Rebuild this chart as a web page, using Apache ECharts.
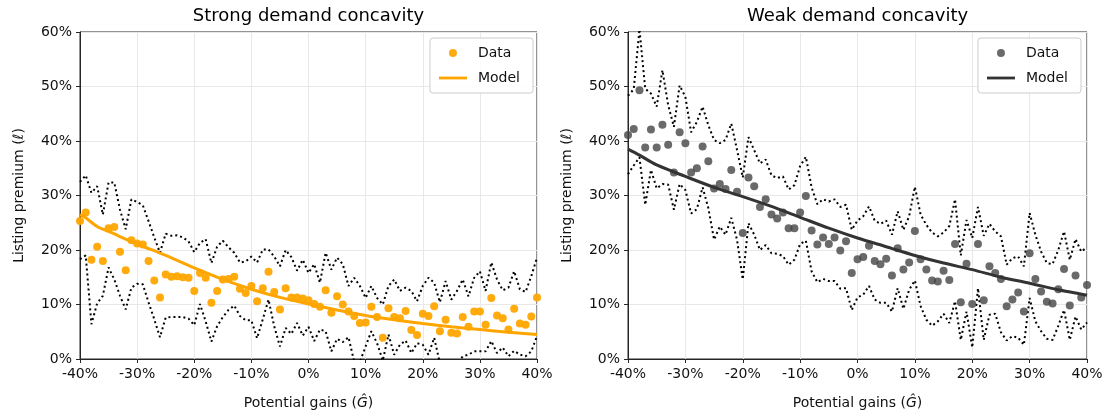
<!DOCTYPE html>
<html>
<head>
<meta charset="utf-8">
<script src="https://cdn.jsdelivr.net/npm/echarts@6/dist/echarts.min.js"></script>
<style>
  html, body { margin: 0; padding: 0; background: #fff; }
  #chart { width: 1108px; height: 417px; }
</style>
</head>
<body>
<div id="chart"></div>
<script>
// Potential gains (%), one observation per percentage point
const gains = [-40,-39,-38,-37,-36,-35,-34,-33,-32,-31,-30,-29,-28,-27,-26,-25,-24,-23,-22,-21,
  -20,-19,-18,-17,-16,-15,-14,-13,-12,-11,-10,-9,-8,-7,-6,-5,-4,-3,-2,-1,
  0,1,2,3,4,5,6,7,8,9,10,11,12,13,14,15,16,17,18,19,
  20,21,22,23,24,25,26,27,28,29,30,31,32,33,34,35,36,37,38,39,40];

// Strong demand concavity: observed premium and its confidence band (%)
const strongData = [25.3,26.9,18.2,20.6,18.0,24.0,24.2,19.7,16.3,21.8,21.2,21.0,18.0,14.4,11.3,15.5,15.1,15.2,15.0,14.9,
  12.5,15.8,14.9,10.3,12.5,14.6,14.7,15.1,12.9,12.1,13.4,10.6,13.0,16.0,12.3,9.1,13.0,11.3,11.3,11.1,
  10.8,10.1,9.6,12.6,8.5,11.5,10.0,8.7,7.9,6.6,6.7,9.6,7.7,3.9,9.3,7.7,7.5,8.8,5.3,4.4,
  8.3,7.9,9.7,5.1,7.2,4.8,4.7,7.7,5.9,8.7,8.7,6.3,11.2,8.0,7.5,5.4,9.2,6.5,6.3,7.8,11.3];
const strongUpper = [32.5,33.7,30.5,31.7,26.5,32.4,32.4,27.4,23.8,29.3,28.8,28.2,25.3,22.3,19.5,23.0,22.6,22.7,22.3,21.6,
  19.6,21.3,22.0,17.6,20.6,21.7,20.5,19.5,17.7,17.9,18.8,17.7,20.1,20.1,18.8,17.0,20.0,18.7,16.2,18.2,
  15.8,17.4,14.0,19.5,16.4,18.6,17.4,13.4,14.9,13.4,11.2,13.4,11.2,10.0,13.4,14.6,12.5,13.1,12.5,10.6,
  13.4,14.9,14.0,10.4,14.3,10.9,12.5,14.6,11.5,14.9,16.1,12.5,17.7,14.6,12.6,13.1,16.1,12.8,12.3,15.2,18.6];
const strongLower = [18.3,19.0,6.4,10.2,11.6,16.8,14.6,11.6,9.1,13.1,13.8,13.7,10.4,7.3,4.0,7.6,7.7,7.7,7.7,7.4,
  6.2,10.1,6.9,3.2,6.0,7.7,9.0,9.8,7.9,7.1,7.1,3.8,7.3,10.9,6.0,2.3,5.7,4.6,6.6,4.3,
  5.9,3.3,5.4,5.1,1.4,3.7,3.1,4.0,-0.5,-0.5,2.3,5.1,2.9,-0.3,4.5,0.8,2.6,3.4,1.1,2.9,
  2.6,0.8,3.9,-0.8,-2.0,-1.5,-1.0,0.5,0.8,1.4,1.4,1.4,3.3,1.1,2.1,0.5,1.5,0.8,0.5,1.4,4.2];
const strongModelGains = [-40,-39,-37,-35,-30,-25,-20,-15,-10,-5,0,5,10,15,20,25,30,35,40];
const strongModel = [26.5,25.9,24.3,23.4,21.1,19.0,16.7,14.6,12.8,11.3,10.1,9.0,8.0,7.2,6.5,5.9,5.4,4.9,4.5];

// Weak demand concavity: observed premium and its confidence band (%)
const weakData = [41.1,42.2,49.3,38.8,42.1,38.8,43.0,39.3,34.2,41.6,39.6,34.2,35.0,39.0,36.3,31.3,32.1,31.2,34.7,30.7,
  23.1,33.3,31.7,27.9,29.3,26.5,25.8,26.9,24.0,24.0,26.9,29.9,23.6,21.0,22.3,21.1,22.3,19.9,21.6,15.8,
  18.3,18.7,20.8,18.0,17.4,18.4,15.3,20.3,16.4,17.7,23.5,18.3,16.4,14.4,14.2,16.2,14.5,21.1,10.4,17.5,
  10.1,21.1,10.8,17.0,15.8,14.7,9.7,10.9,12.2,8.7,19.4,14.7,12.4,10.5,10.2,12.8,16.5,9.8,15.3,11.3,13.6];
const weakUpper = [48.3,49.5,60.5,49.6,48.7,46.3,53.0,46.6,42.6,50.2,48.1,41.6,43.5,46.3,42.9,40.2,39.6,40.2,43.2,38.4,
  33.3,40.7,38.3,35.9,36.6,33.7,33.2,33.5,31.1,31.9,35.4,37.1,31.5,28.4,29.3,28.9,29.3,27.9,28.3,23.7,
  25.4,26.2,28.0,25.4,24.8,25.4,22.8,27.1,23.7,26.2,31.6,26.5,24.6,23.2,22.5,23.2,24.4,29.3,19.0,25.5,
  22.2,27.9,22.6,24.8,23.4,22.5,17.3,18.5,18.8,17.0,26.8,22.8,19.7,17.6,17.4,20.0,23.4,18.2,22.0,19.7,20.5];
const weakLower = [33.9,35.5,37.0,28.3,34.7,31.3,32.1,32.0,27.4,32.1,31.0,26.7,27.5,31.5,27.7,21.9,24.3,22.8,25.9,21.9,
  14.6,24.9,22.8,20.0,20.9,19.4,19.3,18.9,17.3,18.2,21.1,21.7,16.1,14.1,14.7,14.3,14.3,12.9,13.0,9.0,
  11.3,11.8,13.4,10.9,10.3,10.3,8.7,13.0,9.2,12.7,14.4,9.7,7.2,6.1,6.9,8.3,6.6,10.6,3.5,8.7,
  2.1,13.0,3.5,8.1,8.3,4.9,3.4,4.2,3.9,2.6,11.2,6.9,5.1,3.7,3.5,6.1,9.0,3.5,7.8,5.4,6.7];
const weakModelGains = [-40,-38,-35,-30,-25,-20,-15,-10,-5,0,5,10,15,20,25,30,35,40];
const weakModel = [38.5,37.4,35.6,33.5,31.5,29.8,28.0,26.0,24.0,22.2,20.6,19.0,17.6,16.4,15.0,13.9,12.7,11.7];

const titles = ['Strong demand concavity', 'Weak demand concavity'];
const yTicks = ['0%','10%','20%','30%','40%','50%','60%'];

const FONT = 'DejaVu Sans';
const ORANGE = '#ffa500';
const DARK_DOT = '#454545';
const DARK_LINE = '#333333';
const panels = [
  { left: 80, width: 457 },
  { left: 628, width: 459 }
];
const TOP = 32, HEIGHT = 327, W = 1108;

const pairs = (xs, ys) => xs.map((x, i) => [x, ys[i]]);

const grids = panels.map(p => ({
  left: p.left, top: TOP, width: p.width, height: HEIGHT,
  show: true, borderColor: '#262626', borderWidth: 1, backgroundColor: 'transparent'
}));

const xAxes = panels.map((p, i) => ({
  type: 'value', gridIndex: i, min: -40, max: 40, interval: 10,
  axisLine: { show: true, onZero: false, lineStyle: { color: '#262626', width: 1 } },
  axisTick: { show: true, length: 4, lineStyle: { color: '#262626' } },
  axisLabel: { formatter: '{value}%', color: '#111', fontFamily: FONT, fontSize: 14, margin: 8 },
  splitLine: { show: true, lineStyle: { color: '#e8e8e8', width: 1 } },
  name: 'Potential gains ({g|Ĝ})', nameLocation: 'middle', nameGap: 37,
  nameTextStyle: { color: '#111', fontFamily: FONT, fontSize: 14,
    rich: { g: { fontFamily: FONT, fontSize: 14, fontStyle: 'italic', color: '#111' } } }
}));

const yAxes = panels.map((p, i) => ({
  type: 'value', gridIndex: i, min: 0, max: 60, interval: 10,
  axisLine: { show: true, onZero: false, lineStyle: { color: '#262626', width: 1 } },
  axisTick: { show: true, length: 4, lineStyle: { color: '#262626' } },
  axisLabel: { formatter: v => yTicks[Math.round(v / 10)], color: '#111', fontFamily: FONT, fontSize: 14, margin: 8 },
  splitLine: { show: true, lineStyle: { color: '#e8e8e8', width: 1 } },
  name: 'Listing premium ({l|ℓ})', nameLocation: 'middle', nameGap: 54, nameRotate: 90,
  nameTextStyle: { color: '#111', fontFamily: FONT, fontSize: 14,
    rich: { l: { fontFamily: FONT, fontSize: 14, fontStyle: 'italic', color: '#111' } } }
}));

function bandSeries(name, idx, ys) {
  return {
    name, type: 'line', xAxisIndex: idx, yAxisIndex: idx,
    data: pairs(gains, ys), symbol: 'none', showSymbol: false, clip: true,
    lineStyle: { color: '#000', width: 2, type: [2, 3] }, z: 2
  };
}

const series = [
  bandSeries('Upper (strong)', 0, strongUpper),
  bandSeries('Lower (strong)', 0, strongLower),
  { name: 'Data', type: 'scatter', xAxisIndex: 0, yAxisIndex: 0,
    data: pairs(gains, strongData), symbolSize: 8, itemStyle: { color: ORANGE, opacity: 0.95 }, z: 3 },
  { name: 'Model', type: 'line', xAxisIndex: 0, yAxisIndex: 0,
    data: pairs(strongModelGains, strongModel), smooth: 0.3, symbol: 'none', showSymbol: false,
    lineStyle: { color: ORANGE, width: 3 }, itemStyle: { color: ORANGE }, z: 4 },
  bandSeries('Upper (weak)', 1, weakUpper),
  bandSeries('Lower (weak)', 1, weakLower),
  { name: 'Data (weak)', type: 'scatter', xAxisIndex: 1, yAxisIndex: 1,
    data: pairs(gains, weakData), symbolSize: 8, itemStyle: { color: DARK_DOT }, z: 3 },
  { name: 'Model (weak)', type: 'line', xAxisIndex: 1, yAxisIndex: 1,
    data: pairs(weakModelGains, weakModel), smooth: 0.3, symbol: 'none', showSymbol: false,
    lineStyle: { color: DARK_LINE, width: 3 }, itemStyle: { color: DARK_LINE }, z: 4 }
];

// legend handle for the model curve: a plain horizontal stroke inside a 28x8 box
const LINE_ICON = 'path://M0,0 M0,2.6 L28,2.6 L28,5.4 L0,5.4 Z M28,8';

const legendBase = {
  orient: 'vertical', top: 38, itemWidth: 28, itemHeight: 8, itemGap: 11,
  padding: [8, 13, 8, 9], borderColor: '#cccccc', borderWidth: 1, borderRadius: 3,
  backgroundColor: 'rgba(255,255,255,0.85)',
  textStyle: { color: '#111', fontFamily: FONT, fontSize: 14, padding: [0, 0, 0, 6] },
  selectedMode: false, z: 10
};
const legends = [
  Object.assign({}, legendBase, {
    right: W - (panels[0].left + panels[0].width) + 4,
    data: [{ name: 'Data', icon: 'circle' }, { name: 'Model', icon: LINE_ICON }]
  }),
  Object.assign({}, legendBase, {
    right: W - (panels[1].left + panels[1].width) + 6,
    data: [{ name: 'Data (weak)', icon: 'circle' }, { name: 'Model (weak)', icon: LINE_ICON }],
    formatter: n => n.replace(' (weak)', '')
  })
];

const graphic = panels.map((p, i) => ({
  type: 'text', x: p.left + p.width / 2, y: 16,
  style: { text: titles[i], fill: '#000', font: '18px "DejaVu Sans"', align: 'center', verticalAlign: 'middle' }
}));

const chart = echarts.init(document.getElementById('chart'), null, { renderer: 'canvas' });
chart.setOption({
  animation: false,
  backgroundColor: '#fff',
  grid: grids, xAxis: xAxes, yAxis: yAxes,
  legend: legends, series, graphic
});
</script>
</body>
</html>
